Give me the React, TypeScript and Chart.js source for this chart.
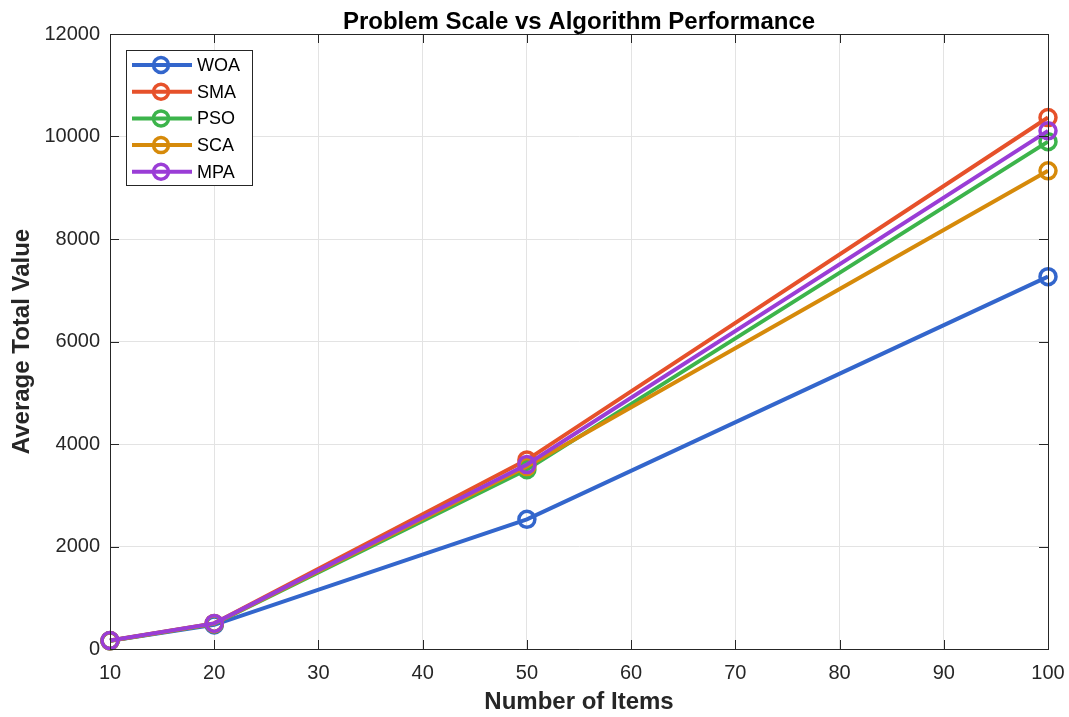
import React, { useEffect, useRef } from "react";
import { Chart, registerables } from "chart.js";

Chart.register(...registerables);

const xValues = [10, 20, 50, 100];
const seriesNames = ["WOA", "SMA", "PSO", "SCA", "MPA"];
const woa = [160, 470, 2530, 7265];
const sma = [165, 500, 3690, 10370];
const pso = [160, 490, 3500, 9900];
const sca = [160, 495, 3560, 9330];
const mpa = [165, 500, 3600, 10110];
const seriesColors = ["#3366cc", "#e6512a", "#3cb44b", "#d68a0a", "#9a3dd6"];
const xTicks = [10, 20, 30, 40, 50, 60, 70, 80, 90, 100];
const yTicks = [0, 2000, 4000, 6000, 8000, 10000, 12000];

const titleText = "Problem Scale vs Algorithm Performance";
const xTitle = "Number of Items";
const yTitle = "Average Total Value";

const FONT = "'Liberation Sans', Arial, Helvetica, sans-serif";
const AXIS_COLOR = "#262626";

export default function App() {
  const ref = useRef<HTMLCanvasElement | null>(null);

  useEffect(() => {
    const canvas = ref.current;
    if (!canvas) return;
    const allSeries = [woa, sma, pso, sca, mpa];

    const framePlugin = {
      id: "frameAndTitle",
      afterDatasetsDraw(chart: any) {
        const ctx = chart.ctx;
        const a = chart.chartArea;
        const xs = chart.scales.x;
        const ys = chart.scales.y;
        ctx.save();
        ctx.strokeStyle = AXIS_COLOR;
        ctx.lineWidth = 1;
        ctx.beginPath();
        ctx.rect(Math.round(a.left) + 0.5, Math.round(a.top) + 0.5, Math.round(a.right - a.left), Math.round(a.bottom - a.top));
        ctx.stroke();
        const tl = 9;
        ctx.beginPath();
        for (const t of xTicks) {
          const px = Math.round(xs.getPixelForValue(t)) + 0.5;
          ctx.moveTo(px, a.bottom);
          ctx.lineTo(px, a.bottom - tl);
          ctx.moveTo(px, a.top);
          ctx.lineTo(px, a.top + tl);
        }
        for (const t of yTicks) {
          const py = Math.round(ys.getPixelForValue(t)) + 0.5;
          ctx.moveTo(a.left, py);
          ctx.lineTo(a.left + tl, py);
          ctx.moveTo(a.right, py);
          ctx.lineTo(a.right - tl, py);
        }
        ctx.stroke();
        ctx.restore();
      },
      afterDraw(chart: any) {
        const ctx = chart.ctx;
        const a = chart.chartArea;
        ctx.save();
        // title
        ctx.fillStyle = "#000";
        ctx.font = `bold 24px ${FONT}`;
        ctx.textAlign = "center";
        ctx.textBaseline = "middle";
        ctx.fillText(titleText, (a.left + a.right) / 2, 22);

        // legend
        const bx = 126, by = 50, bw = 126, bh = 135;
        ctx.fillStyle = "#fff";
        ctx.fillRect(bx, by, bw, bh);
        ctx.strokeStyle = AXIS_COLOR;
        ctx.lineWidth = 1;
        ctx.strokeRect(bx + 0.5, by + 0.5, bw, bh);
        ctx.font = `18px ${FONT}`;
        ctx.textAlign = "left";
        ctx.textBaseline = "middle";
        seriesNames.forEach((name, i) => {
          const cy = by + 15 + i * 26.7;
          const color = seriesColors[i];
          ctx.strokeStyle = color;
          ctx.lineWidth = 4;
          ctx.beginPath();
          ctx.moveTo(bx + 6, cy);
          ctx.lineTo(bx + 66, cy);
          ctx.stroke();
          ctx.lineWidth = 3.5;
          ctx.beginPath();
          ctx.arc(bx + 35, cy, 7.5, 0, Math.PI * 2);
          ctx.stroke();
          ctx.fillStyle = "#000";
          ctx.fillText(name, bx + 71, cy + 1);
        });
        ctx.restore();
      },
    };

    const chart = new Chart(canvas, {
      type: "line",
      data: {
        datasets: seriesNames.map((name, i) => ({
          label: name,
          data: xValues.map((x, j) => ({ x, y: allSeries[i][j] })),
          borderColor: seriesColors[i],
          backgroundColor: "rgba(0,0,0,0)",
          pointBackgroundColor: "rgba(0,0,0,0)",
          pointBorderColor: seriesColors[i],
          pointRadius: 8,
          pointBorderWidth: 3.5,
          borderWidth: 4,
          tension: 0,
          fill: false,
          clip: false as any,
          order: seriesNames.length - i,
        })),
      },
      options: {
        animation: false,
        responsive: false,
        devicePixelRatio: 1,
        events: [],
        layout: { padding: { top: 34, right: 21, left: 0, bottom: 0 } },
        plugins: {
          legend: { display: false },
          title: { display: false },
          tooltip: { enabled: false },
        },
        scales: {
          x: {
            type: "linear",
            min: 10,
            max: 100,
            afterBuildTicks(scale: any) {
              scale.ticks = xTicks.map((v) => ({ value: v }));
            },
            afterFit(scale: any) {
              scale.height = 68;
              scale.paddingLeft = 0;
              scale.paddingRight = 0;
            },
            ticks: {
              stepSize: 10,
              padding: 12,
              color: AXIS_COLOR,
              font: { family: FONT, size: 20 },
              maxRotation: 0,
              autoSkip: false,
              callback: (v: any) => String(v),
            },
            grid: { color: "#e3e3e3", drawTicks: false, lineWidth: 1 },
            border: { display: true, color: AXIS_COLOR },
            title: {
              display: true,
              text: xTitle,
              color: AXIS_COLOR,
              font: { family: FONT, size: 24, weight: "bold" },
              padding: { top: 0, bottom: 0 },
            },
          },
          y: {
            type: "linear",
            min: 0,
            max: 12000,
            afterBuildTicks(scale: any) {
              scale.ticks = yTicks.map((v) => ({ value: v }));
            },
            afterFit(scale: any) {
              scale.width = 110;
              scale.paddingTop = 0;
              scale.paddingBottom = 0;
            },
            ticks: {
              stepSize: 2000,
              padding: 10,
              color: AXIS_COLOR,
              font: { family: FONT, size: 20 },
              autoSkip: false,
              callback: (v: any) => String(v),
            },
            grid: { color: "#e3e3e3", drawTicks: false, lineWidth: 1 },
            border: { display: true, color: AXIS_COLOR },
            title: {
              display: true,
              text: yTitle,
              color: AXIS_COLOR,
              font: { family: FONT, size: 24, weight: "bold" },
              padding: { top: 8, bottom: 0 },
            },
          },
        },
      },
      plugins: [framePlugin],
    } as any);

    return () => chart.destroy();
  }, []);

  return (
    <div style={{ position: "fixed", left: 0, top: 0, width: 1069, height: 717, background: "#fff" }}>
      <canvas ref={ref} width={1069} height={717} style={{ display: "block" }} />
    </div>
  );
}
